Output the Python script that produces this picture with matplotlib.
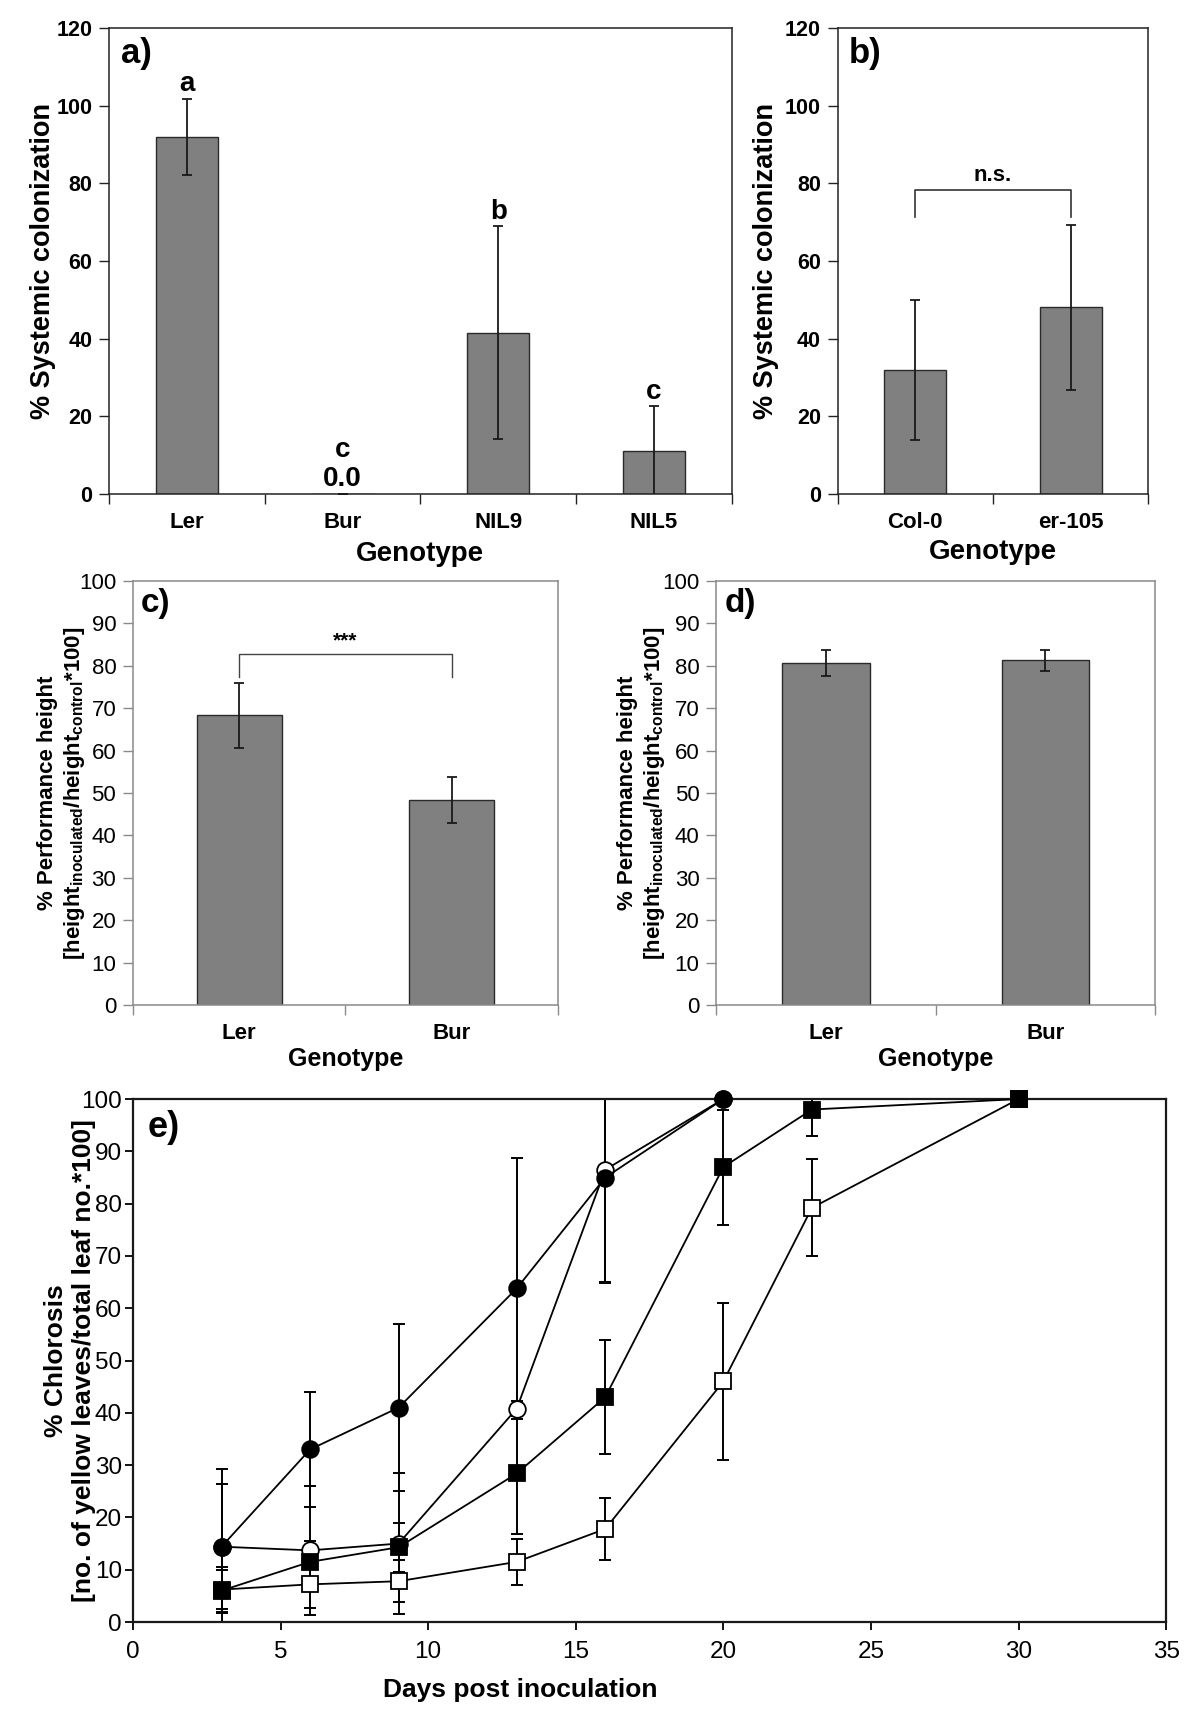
import matplotlib
matplotlib.use("Agg")
import matplotlib.pyplot as plt
import numpy as np

plt.rcParams['font.family'] = ['Liberation Sans', 'DejaVu Sans']
plt.rcParams['mathtext.fontset'] = 'custom'
plt.rcParams['mathtext.rm'] = 'Liberation Sans'
plt.rcParams['mathtext.bf'] = 'Liberation Sans:bold'

# ---------------- data ----------------
a_genotypes = ["Ler", "Bur", "NIL9", "NIL5"]
a_values = [91.9, 0.0, 41.6, 11.0]
a_errors = [9.8, 0.0, 27.4, 11.6]
a_letters = ["a", "c", "b", "c"]

b_genotypes = ["Col-0", "er-105"]
b_values = [32.0, 48.1]
b_errors = [18.0, 21.3]

c_genotypes = ["Ler", "Bur"]
c_values = [68.3, 48.3]
c_errors = [7.6, 5.4]

d_genotypes = ["Ler", "Bur"]
d_values = [80.7, 81.3]
d_errors = [3.1, 2.4]

e_days_circ = [3, 6, 9, 13, 16, 20]
e_days_sq = [3, 6, 9, 13, 16, 20, 23, 30]
e_fc_y = [14.4, 33.0, 41.0, 63.8, 85.0, 100.0]
e_fc_err = [14.8, 11.0, 16.0, 25.0, 20.0, 0.0]
e_oc_y = [14.4, 13.7, 15.0, 40.8, 86.5, 100.0]
e_oc_err = [12.0, 12.3, 13.5, 1.5, 21.7, 0.0]
e_fs_y = [6.0, 11.5, 14.3, 28.4, 43.0, 87.0, 98.0, 100.0]
e_fs_err = [4.0, 4.0, 4.7, 11.5, 10.9, 11.0, 5.0, 0.0]
e_os_y = [6.2, 7.2, 7.8, 11.5, 17.8, 46.0, 79.2, 100.0]
e_os_err = [4.4, 4.5, 4.0, 4.4, 6.0, 15.0, 9.3, 0.0]

BAR_COLOR = "#808080"
BAR_EDGE = "#2a2a2a"

fig = plt.figure(figsize=(12, 17.09), dpi=100)

def bar_panel(ax, cats, vals, errs, ymax, ystep, spine_color, tick_bold, tick_size, xtick_size):
    x = np.arange(len(cats))
    ax.bar(x, vals, width=0.4, color=BAR_COLOR, edgecolor=BAR_EDGE, linewidth=1.0, zorder=2)
    ax.errorbar(x, vals, yerr=errs, fmt='none', ecolor='#1a1a1a', elinewidth=1.3,
                capsize=3.5, capthick=1.3, zorder=3)
    ax.set_xlim(-0.5, len(cats) - 0.5)
    ax.set_ylim(0, ymax)
    ax.set_yticks(np.arange(0, ymax + 1, ystep))
    ax.set_xticks(np.arange(-0.5, len(cats), 1.0))
    ax.set_xticklabels([])
    ax.set_xticks(x, minor=True)
    ax.set_xticklabels(cats, minor=True, fontsize=xtick_size, fontweight='bold')
    ax.tick_params(axis='x', which='minor', length=0, pad=13)
    ax.tick_params(axis='x', which='major', length=7, width=1.0, color=spine_color, direction='out')
    ax.tick_params(axis='y', length=7, width=1.0, color=spine_color, direction='out',
                   labelsize=tick_size, pad=5)
    for lab in ax.get_yticklabels():
        lab.set_fontweight('bold' if tick_bold else 'normal')
    for s in ax.spines.values():
        s.set_color(spine_color)
        s.set_linewidth(1.1)

# ---------------- panel a ----------------
ax_a = fig.add_axes([0.0908, 0.7109, 0.519, 0.2727])
bar_panel(ax_a, a_genotypes, a_values, a_errors, 120, 20, '#222222', True, 15.5, 16)
ax_a.set_ylabel("% Systemic colonization", fontsize=19.5, fontweight='bold')
ax_a.yaxis.set_label_coords(-0.085, 0.5)
ax_a.set_xlabel("Genotype", fontsize=20, fontweight='bold', labelpad=6)
ax_a.text(0.02, 0.945, "a)", transform=ax_a.transAxes, fontsize=25, fontweight='bold', va='center')
letter_y = [105.5, 11.3, 72.6, 26.3]
for i, (lt, ly) in enumerate(zip(a_letters, letter_y)):
    ax_a.text(i, ly, lt, ha='center', va='center', fontsize=20, fontweight='bold')
ax_a.text(1, 3.8, "0.0", ha='center', va='center', fontsize=20, fontweight='bold')

# ---------------- panel b ----------------
ax_b = fig.add_axes([0.698, 0.7109, 0.259, 0.2727])
bar_panel(ax_b, b_genotypes, b_values, b_errors, 120, 20, '#222222', True, 15.5, 16)
ax_b.set_ylabel("% Systemic colonization", fontsize=19.5, fontweight='bold')
ax_b.yaxis.set_label_coords(-0.19, 0.5)
ax_b.set_xlabel("Genotype", fontsize=20, fontweight='bold', labelpad=4)
ax_b.text(0.035, 0.945, "b)", transform=ax_b.transAxes, fontsize=25, fontweight='bold', va='center')
ax_b.plot([0, 0, 1, 1], [71.3, 78.2, 78.2, 71.3], color='#333333', lw=1.2)
ax_b.text(0.5, 82.0, "n.s.", ha='center', va='center', fontsize=16, fontweight='bold')

perf_label = ("% Performance height\n"
              r"[height$_{\mathbf{inoculated}}$/height$_{\mathbf{control}}$*100]")

# ---------------- panel c ----------------
ax_c = fig.add_axes([0.1108, 0.4119, 0.354, 0.2481])
bar_panel(ax_c, c_genotypes, c_values, c_errors, 100, 10, '#8a8a8a', False, 16, 16)
ax_c.set_ylabel(perf_label, fontsize=16, fontweight='bold', linespacing=1.2)
ax_c.yaxis.set_label_coords(-0.108, 0.5)
ax_c.set_xlabel("Genotype", fontsize=18, fontweight='bold', labelpad=2)
ax_c.text(0.019, 0.947, "c)", transform=ax_c.transAxes, fontsize=24, fontweight='bold', va='center')
ax_c.plot([0, 0, 1, 1], [77.4, 82.8, 82.8, 77.4], color='#444444', lw=1.0)
ax_c.text(0.5, 86.0, "***", ha='center', va='center', fontsize=15, fontweight='bold')

# ---------------- panel d ----------------
ax_d = fig.add_axes([0.5967, 0.4119, 0.366, 0.2481])
bar_panel(ax_d, d_genotypes, d_values, d_errors, 100, 10, '#8a8a8a', False, 16, 16)
ax_d.set_ylabel(perf_label, fontsize=16, fontweight='bold', linespacing=1.2)
ax_d.yaxis.set_label_coords(-0.112, 0.5)
ax_d.set_xlabel("Genotype", fontsize=18, fontweight='bold', labelpad=2)
ax_d.text(0.02, 0.947, "d)", transform=ax_d.transAxes, fontsize=24, fontweight='bold', va='center')

# ---------------- panel e ----------------
ax_e = fig.add_axes([0.1108, 0.0509, 0.861, 0.306])
ms_c = 12
ms_s = 11.5
series = [
    (e_days_sq, e_os_y, e_os_err, 's', 'white', ms_s),
    (e_days_circ, e_oc_y, e_oc_err, 'o', 'white', ms_c),
    (e_days_sq, e_fs_y, e_fs_err, 's', 'black', ms_s),
    (e_days_circ, e_fc_y, e_fc_err, 'o', 'black', ms_c),
]
z = 3
for xs, ys, es, mk, fc, ms in series:
    ax_e.errorbar(xs, ys, yerr=es, fmt='none', ecolor='black', elinewidth=1.4,
                  capsize=4, capthick=1.4, zorder=2)
    ax_e.plot(xs, ys, color='black', lw=1.3, marker=mk, markersize=ms,
              markerfacecolor=fc, markeredgecolor='black', markeredgewidth=1.3,
              zorder=z, clip_on=False)
    z += 1
ax_e.set_xlim(0, 35)
ax_e.set_ylim(0, 100)
ax_e.set_xticks(np.arange(0, 36, 5))
ax_e.set_yticks(np.arange(0, 101, 10))
ax_e.tick_params(axis='both', direction='out', length=6, width=1.3, labelsize=17.5)
ax_e.tick_params(axis='x', pad=8)
ax_e.tick_params(axis='y', pad=2)
for s in ax_e.spines.values():
    s.set_linewidth(1.6)
    s.set_color('#1a1a1a')
ax_e.set_xlabel("Days post inoculation", fontsize=19, fontweight='bold')
ax_e.xaxis.set_label_coords(0.375, -0.108)
ax_e.set_ylabel("% Chlorosis\n[no. of yellow leaves/total leaf no.*100]", fontsize=19,
                fontweight='bold', linespacing=1.2)
ax_e.yaxis.set_label_coords(-0.036, 0.5)
ax_e.text(0.014, 0.946, "e)", transform=ax_e.transAxes, fontsize=26, fontweight='bold', va='center')

fig.savefig("out.png", dpi=100)
